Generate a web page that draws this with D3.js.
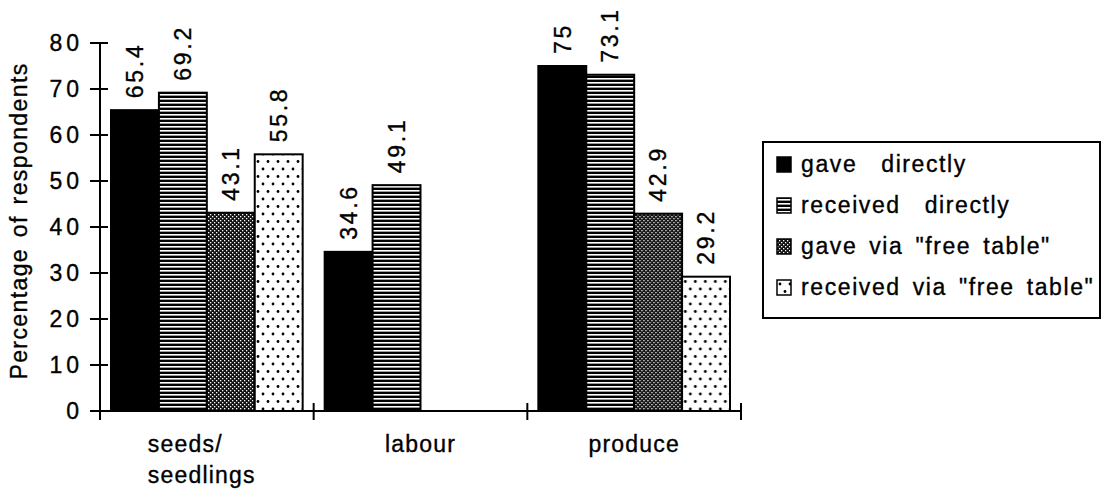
<!DOCTYPE html>
<html>
<head>
<meta charset="utf-8">
<script src="https://cdn.jsdelivr.net/npm/d3@7"></script>
<style>
  html, body { margin: 0; padding: 0; background: #fff; }
  svg { display: block; font-family: "Liberation Sans", Arial, Helvetica, sans-serif; }
  text { fill: #000; stroke: #000; stroke-width: 0.35px; }
</style>
</head>
<body>
<svg id="chart" width="1103" height="493"></svg>
<script>
// ---- data ----
const categories = ["seeds/\nseedlings", "labour", "produce"];
const series = ["gave  directly", "received  directly", "gave via \"free table\"", "received via \"free table\""];
const gaveDirectly = [65.4, 34.6, 75];
const receivedDirectly = [69.2, 49.1, 73.1];
const gaveViaFreeTable = [43.1, null, 42.9];
const receivedViaFreeTable = [55.8, null, 29.2];
const yTicks = [0, 10, 20, 30, 40, 50, 60, 70, 80];
const yTitle = "Percentage of respondents";

const seriesValues = [gaveDirectly, receivedDirectly, gaveViaFreeTable, receivedViaFreeTable];

// ---- setup ----
const svg = d3.select("#chart");
const defs = svg.append("defs");

// horizontal stripes
const pStripe = defs.append("pattern").attr("id", "pStripe")
  .attr("patternUnits", "userSpaceOnUse").attr("width", 4).attr("height", 4);
pStripe.append("rect").attr("width", 4).attr("height", 4).attr("fill", "#000");
pStripe.append("rect").attr("y", 2).attr("width", 4).attr("height", 1.6).attr("fill", "#fff");

// dense dots (dark)
const pDense = defs.append("pattern").attr("id", "pDense")
  .attr("patternUnits", "userSpaceOnUse").attr("width", 4).attr("height", 4);
pDense.append("rect").attr("width", 4).attr("height", 4).attr("fill", "#111");
pDense.append("rect").attr("x", 0).attr("y", 0).attr("width", 1.3).attr("height", 1.3).attr("fill", "#fff");
pDense.append("rect").attr("x", 2).attr("y", 2).attr("width", 1.3).attr("height", 1.3).attr("fill", "#fff");

// sparse dots (light)
const pSparse = defs.append("pattern").attr("id", "pSparse")
  .attr("patternUnits", "userSpaceOnUse").attr("width", 10).attr("height", 15);
pSparse.append("rect").attr("width", 10).attr("height", 15).attr("fill", "#fff");
pSparse.append("circle").attr("cx", 3).attr("cy", 4).attr("r", 1.4).attr("fill", "#000");
pSparse.append("circle").attr("cx", 8).attr("cy", 11.5).attr("r", 1.4).attr("fill", "#000");

const fills = ["#000", "url(#pStripe)", "url(#pDense)", "url(#pSparse)"];

// scales
const y = d3.scaleLinear().domain([0, 80]).range([411, 43]);
const x0 = d3.scaleBand().domain(categories).range([100, 741]).padding(0);
const x1 = d3.scaleBand().domain(series).range([11, x0.bandwidth() - 11]).padding(0);

const FONT = 23;

// y axis
svg.append("line").attr("x1", 100).attr("x2", 100)
  .attr("y1", y(80)).attr("y2", y(0) + 9)
  .attr("stroke", "#000").attr("stroke-width", 2);
svg.selectAll("line.ytick").data(yTicks).enter().append("line")
  .attr("class", "ytick")
  .attr("x1", 90).attr("x2", 108)
  .attr("y1", d => y(d)).attr("y2", d => y(d))
  .attr("stroke", "#000").attr("stroke-width", 2);
svg.selectAll("text.ytl").data(yTicks).enter().append("text")
  .attr("class", "ytl")
  .attr("x", 79 + 4)
  .attr("y", d => y(d))
  .attr("dy", "0.36em")
  .attr("text-anchor", "end")
  .style("font-size", FONT + "px")
  .style("letter-spacing", "4px")
  .text(d => d);

// y title
svg.append("text")
  .attr("transform", `translate(27,${(y(0) + y(80)) / 2 - 6}) rotate(-90)`)
  .attr("text-anchor", "middle")
  .style("font-size", FONT + "px")
  .style("letter-spacing", "1.4px")
  .style("word-spacing", "3px")
  .text(yTitle);

// bars
const groups = svg.selectAll("g.grp").data(categories).enter().append("g")
  .attr("class", "grp")
  .attr("transform", d => `translate(${x0(d)},0)`);

groups.each(function(cat, ci) {
  const g = d3.select(this);
  const items = series.map((s, si) => ({ s, si, v: seriesValues[si][ci] })).filter(d => d.v != null);
  g.selectAll("rect").data(items).enter().append("rect")
    .attr("x", d => x1(d.s))
    .attr("y", d => y(d.v))
    .attr("width", x1.bandwidth())
    .attr("height", d => y(0) - y(d.v))
    .attr("fill", d => fills[d.si])
    .attr("stroke", "#000").attr("stroke-width", 2);
  g.selectAll("text.val").data(items).enter().append("text")
    .attr("class", "val")
    .attr("transform", d => `translate(${x1(d.s) + x1.bandwidth() / 2},${y(d.v) - 12}) rotate(-90)`)
    .attr("dy", "0.36em")
    .attr("text-anchor", "start")
    .style("font-size", FONT + "px")
    .style("letter-spacing", "2.7px")
    .text(d => d.v);
});

// x axis
svg.append("line").attr("x1", 100).attr("x2", 741)
  .attr("y1", y(0)).attr("y2", y(0))
  .attr("stroke", "#000").attr("stroke-width", 2);
const bounds = categories.map(c => x0(c)).concat([x0(categories[categories.length - 1]) + x0.bandwidth()]);
svg.selectAll("line.xt").data(bounds).enter().append("line")
  .attr("class", "xt")
  .attr("x1", d => d).attr("x2", d => d)
  .attr("y1", y(0) - 8).attr("y2", y(0) + 9)
  .attr("stroke", "#000").attr("stroke-width", 2);

// x labels
categories.forEach(c => {
  const lines = c.split("\n");
  const cx = x0(c) + x0.bandwidth() / 2;
  const t = svg.append("text")
    .style("font-size", FONT + "px")
    .style("letter-spacing", "1.2px")
    .attr("text-anchor", lines.length > 1 ? "start" : "middle");
  lines.forEach((ln, i) => {
    t.append("tspan")
      .attr("x", lines.length > 1 ? cx - 59 : cx)
      .attr("y", 452 + i * 31)
      .text(ln);
  });
});

// legend
const lg = svg.append("g");
lg.append("rect").attr("x", 763).attr("y", 142).attr("width", 337).attr("height", 176)
  .attr("fill", "#fff").attr("stroke", "#000").attr("stroke-width", 2);
const lItems = lg.selectAll("g.li").data(series).enter().append("g")
  .attr("class", "li")
  .attr("transform", (d, i) => `translate(777,${172 + i * 41})`);
lItems.append("rect")
  .attr("x", 0).attr("y", -15).attr("width", 14).attr("height", 15)
  .attr("fill", (d, i) => fills[i])
  .attr("stroke", "#000").attr("stroke-width", 1.5);
lItems.append("text")
  .attr("x", 24).attr("y", 0)
  .attr("xml:space", "preserve")
  .style("white-space", "pre")
  .style("font-size", FONT + "px")
  .style("letter-spacing", "1.6px")
  .style("word-spacing", "4px")
  .text(d => d);
</script>
</body>
</html>
